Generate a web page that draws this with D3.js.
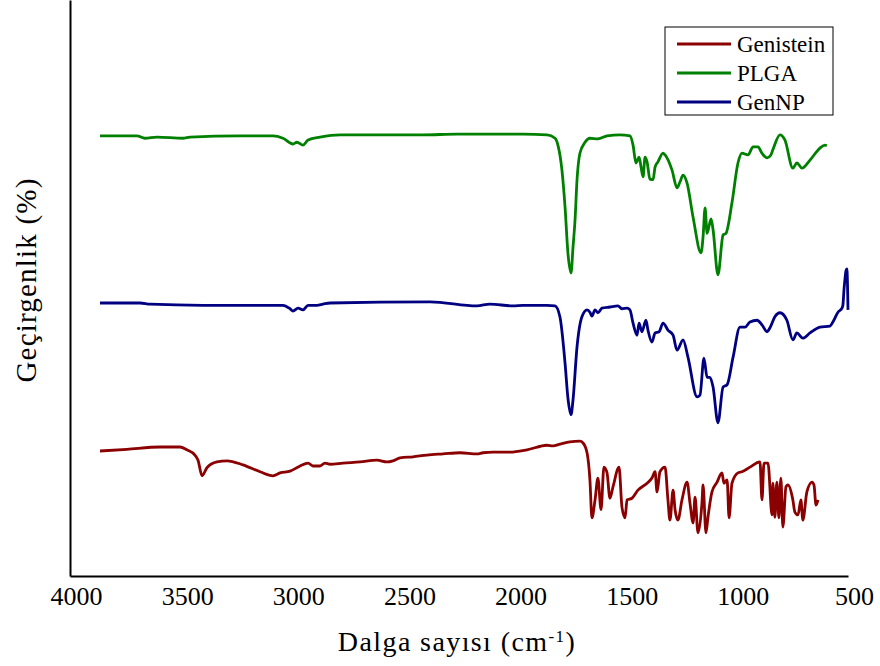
<!DOCTYPE html>
<html>
<head>
<meta charset="utf-8">
<script src="https://cdnjs.cloudflare.com/ajax/libs/d3/7.8.5/d3.min.js"></script>
<style>
  body { margin: 0; background: #fff; }
  text { font-family: "Liberation Serif", "Times New Roman", serif; fill: #000; }
</style>
</head>
<body>
<div id="ftir"></div>
<script>
// wavenumber (cm-1) and transmittance
var genisteinWn = [3865,3744,3595,3505,3474,3438,3424,3406,3384,3339,3294,3222,3145,3087,3055,3010,2965,2929,2907,2875,2853,2830,2772,2695,2619,2574,2547,2515,2457,2394,2322,2245,2169,2142,2097,2021,1944,1854,1827,1796,1751,1706,1692,1674,1661,1652,1638,1625,1611,1598,1584,1571,1557,1530,1517,1503,1494,1472,1445,1404,1382,1368,1359,1346,1323,1310,1301,1287,1278,1265,1247,1224,1211,1197,1188,1175,1157,1152,1139,1130,1112,1089,1067,1058,1044,1035,1022,995,977,941,896,887,878,860,842,838,829,820,811,802,793,779,770,748,739,725,712,703,685,662,653,644,635];
var genisteinT = [21.7,22.0,22.4,22.4,21.9,21.0,20.1,17.4,18.8,19.8,20.0,19.3,18.1,17.4,17.9,18.2,19.1,19.6,19.1,19.1,19.6,19.4,19.6,19.8,20.1,19.8,20.0,20.5,20.7,21.0,21.2,21.4,21.2,21.4,21.5,21.5,21.9,22.7,22.6,22.9,23.3,23.4,23.1,21.4,16.7,10.1,13.2,17.0,11.5,18.9,17.9,13.5,15.5,18.9,12.0,10.1,13.2,13.5,14.9,16.1,17.0,18.1,14.6,18.1,18.9,13.2,9.7,14.9,11.5,9.7,13.2,16.3,12.7,9.2,13.7,7.5,12.7,15.8,7.5,10.2,14.6,16.3,17.9,16.1,16.7,10.1,16.1,17.9,18.1,18.9,19.8,13.2,19.6,19.6,10.6,16.1,10.2,16.3,10.1,17.0,8.5,15.5,15.8,13.2,11.1,10.6,13.2,9.7,14.6,16.3,15.8,12.3,13.2];

var plgaWn = [3865,3699,3663,3609,3492,3460,3235,3087,3042,2997,2979,2952,2929,2875,2785,2412,2259,1962,1854,1818,1805,1787,1773,1760,1746,1737,1728,1719,1706,1683,1661,1625,1584,1526,1481,1467,1454,1440,1431,1422,1413,1404,1391,1377,1368,1355,1332,1323,1292,1269,1256,1242,1224,1197,1161,1152,1143,1134,1116,1107,1085,1062,1049,1022,995,977,950,927,905,887,864,847,838,806,784,748,730,707,671,626,604,595];
var plgaT = [76.4,76.4,76.0,76.2,76.0,76.2,76.4,76.4,76.0,75.0,75.3,74.8,75.7,76.2,76.6,76.6,76.7,76.7,76.6,76.0,74.8,70.5,64.1,56.1,52.6,57.1,61.8,68.8,73.4,75.3,76.0,75.9,76.4,76.6,76.4,74.8,71.7,72.7,71.0,69.3,72.7,71.9,68.9,68.8,71.0,71.9,73.4,73.1,70.5,67.4,68.4,69.6,68.2,62.3,56.1,58.9,63.9,59.5,62.0,60.1,52.3,59.2,59.5,64.8,71.7,73.4,73.1,74.5,74.5,73.4,72.6,73.1,74.0,76.6,75.7,70.8,71.7,70.8,72.2,74.3,74.8,74.7];

var genNpWn = [3865,3685,3640,3402,3042,3010,2997,2974,2952,2929,2889,2862,2830,2380,2169,2111,2007,1962,1854,1818,1796,1773,1760,1746,1737,1719,1697,1674,1661,1652,1638,1625,1607,1571,1535,1517,1494,1481,1467,1449,1440,1427,1409,1400,1382,1368,1350,1332,1310,1287,1269,1242,1220,1179,1166,1148,1134,1121,1107,1085,1062,1044,1017,986,963,941,909,887,864,851,829,806,775,748,730,703,671,626,581,568,545,527,523,518,514,509,505,500];
var genNpT = [47.4,47.4,47.2,47.0,47.0,46.4,46.0,46.5,46.2,47.0,47.0,47.2,47.4,47.6,46.9,47.2,46.9,47.0,47.0,46.9,45.0,37.0,30.9,28.0,30.6,39.8,45.0,46.2,45.8,45.1,46.2,45.7,46.5,46.7,46.9,46.4,46.5,46.2,43.9,41.8,43.9,42.4,44.4,42.7,40.6,42.2,42.4,43.9,42.7,41.8,39.2,41.0,38.0,31.1,31.4,37.8,34.5,34.5,32.8,26.6,32.8,33.2,38.0,43.2,43.2,44.1,44.4,43.6,42.4,43.1,45.0,45.7,44.4,41.0,42.2,41.3,42.2,43.2,43.4,44.1,45.8,46.5,47.0,49.7,51.4,53.0,53.3,46.2];

var seriesNames = ["Genistein", "PLGA", "GenNP"];
var seriesColors = ["#8b0000", "#008000", "#000080"];
var xTicks = [4000, 3500, 3000, 2500, 2000, 1500, 1000, 500];

var width = 880,
    height = 666;

var x = d3.scaleLinear().domain([4000, 500]).range([70, 848]);
var y = d3.scaleLinear().domain([0, 100]).range([576, 0]);

var svg = d3.select("#ftir")
    .append("svg")
    .attr("width", width)
    .attr("height", height);

var series = [
  { name: seriesNames[0], color: seriesColors[0], wn: genisteinWn, t: genisteinT },
  { name: seriesNames[1], color: seriesColors[1], wn: plgaWn, t: plgaT },
  { name: seriesNames[2], color: seriesColors[2], wn: genNpWn, t: genNpT }
];

var line = d3.line()
    .x(function(d) { return x(d[0]); })
    .y(function(d) { return y(d[1]); })
    .curve(d3.curveMonotoneX);

svg.selectAll("path.spectrum")
    .data(series)
    .enter()
    .append("path")
    .attr("class", "spectrum")
    .attr("fill", "none")
    .attr("stroke", function(d) { return d.color; })
    .attr("stroke-width", 2.8)
    .attr("stroke-linejoin", "round")
    .attr("d", function(d) { return line(d3.zip(d.wn, d.t)); });

// axes: no tick marks, only labels
var xAxis = svg.append("g")
    .attr("transform", "translate(0,576)")
    .call(d3.axisBottom(x).tickValues(xTicks).tickSize(0).tickPadding(11).tickFormat(d3.format("d")));
xAxis.select(".domain").attr("stroke", "#000").attr("stroke-width", 2);
xAxis.selectAll("text")
    .attr("dx", 6)
    .style("font-family", "'Liberation Serif', serif")
    .style("font-size", "26px");

var yAxis = svg.append("g")
    .attr("transform", "translate(70,0)")
    .call(d3.axisLeft(y).tickValues([]).tickSizeOuter(0));
yAxis.select(".domain").attr("stroke", "#000").attr("stroke-width", 2);

svg.append("text")
    .attr("x", 457)
    .attr("y", 651)
    .attr("text-anchor", "middle")
    .style("font-size", "28px")
    .style("letter-spacing", "1.4px")
    .html("Dalga sayısı (cm<tspan baseline-shift='super' font-size='17px'>-1</tspan>)");

svg.append("text")
    .attr("transform", "translate(36,280) rotate(-90)")
    .attr("text-anchor", "middle")
    .style("font-size", "29px")
    .style("letter-spacing", "1.2px")
    .text("Geçirgenlik (%)");

// legend
var legend = svg.append("g").attr("transform", "translate(665,27)");
legend.append("rect")
    .attr("width", 168)
    .attr("height", 88)
    .attr("fill", "#fff")
    .attr("stroke", "#000")
    .attr("stroke-width", 1);

var item = legend.selectAll("g.item")
    .data(series)
    .enter()
    .append("g")
    .attr("class", "item")
    .attr("transform", function(d, i) { return "translate(0," + (17 + i * 29) + ")"; });

item.append("line")
    .attr("x1", 12)
    .attr("x2", 66)
    .attr("stroke", function(d) { return d.color; })
    .attr("stroke-width", 2.8);

item.append("text")
    .attr("x", 72)
    .attr("dy", "0.33em")
    .style("font-size", "23px")
    .text(function(d) { return d.name; });
</script>
</body>
</html>
